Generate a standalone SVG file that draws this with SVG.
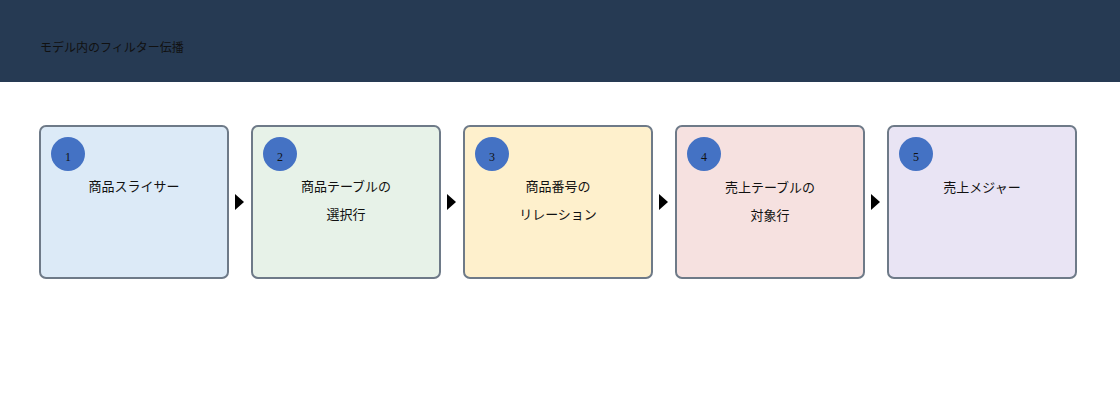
<svg xmlns="http://www.w3.org/2000/svg" width="1120" height="400" viewBox="0 0 1120 400">
<style>
.box{stroke:#6e7a88;stroke-width:2}
.num{fill:#4472c4}
.nt{font-family:"Liberation Serif",serif;font-size:12px;fill:#111;text-anchor:middle}
.t{font-family:"Noto Sans CJK JP",sans-serif;font-size:13px;fill:#111;text-anchor:middle}
.arr{fill:#000}
</style>
<rect x="0" y="0" width="1120" height="82" fill="#263a53"/>
<text x="40" y="52" font-family="Noto Sans CJK JP, sans-serif" font-size="12" fill="#111">モデル内のフィルター伝播</text>
<g id="n1"><rect class="box" x="40" y="126" width="188" height="152" rx="6" fill="#dceaf7"/><circle class="num" cx="68" cy="154" r="17"/><text class="nt" x="68" y="161">1</text><text class="t" x="134" y="191">商品スライサー</text></g>
<g id="n2"><rect class="box" x="252" y="126" width="188" height="152" rx="6" fill="#e7f2e8"/><circle class="num" cx="280" cy="154" r="17"/><text class="nt" x="280" y="161">2</text><text class="t" x="346" y="191">商品テーブルの</text><text class="t" x="346" y="219">選択行</text></g>
<g id="n3"><rect class="box" x="464" y="126" width="188" height="152" rx="6" fill="#fef0cc"/><circle class="num" cx="492" cy="154" r="17"/><text class="nt" x="492" y="161">3</text><text class="t" x="558" y="191">商品番号の</text><text class="t" x="558" y="219">リレーション</text></g>
<g id="n4"><rect class="box" x="676" y="126" width="188" height="152" rx="6" fill="#f6e1e0"/><circle class="num" cx="704" cy="154" r="17"/><text class="nt" x="704" y="161">4</text><text class="t" x="770" y="192">売上テーブルの</text><text class="t" x="770" y="220">対象行</text></g>
<g id="n5"><rect class="box" x="888" y="126" width="188" height="152" rx="6" fill="#e9e4f4"/><circle class="num" cx="916" cy="154" r="17"/><text class="nt" x="916" y="161">5</text><text class="t" x="982" y="192">売上メジャー</text></g>
<g id="connectors">
<polygon class="arr" points="235,194 244,202 235,210"/>
<polygon class="arr" points="447,194 456,202 447,210"/>
<polygon class="arr" points="659,194 668,202 659,210"/>
<polygon class="arr" points="871,194 880,202 871,210"/>
</g>
</svg>
